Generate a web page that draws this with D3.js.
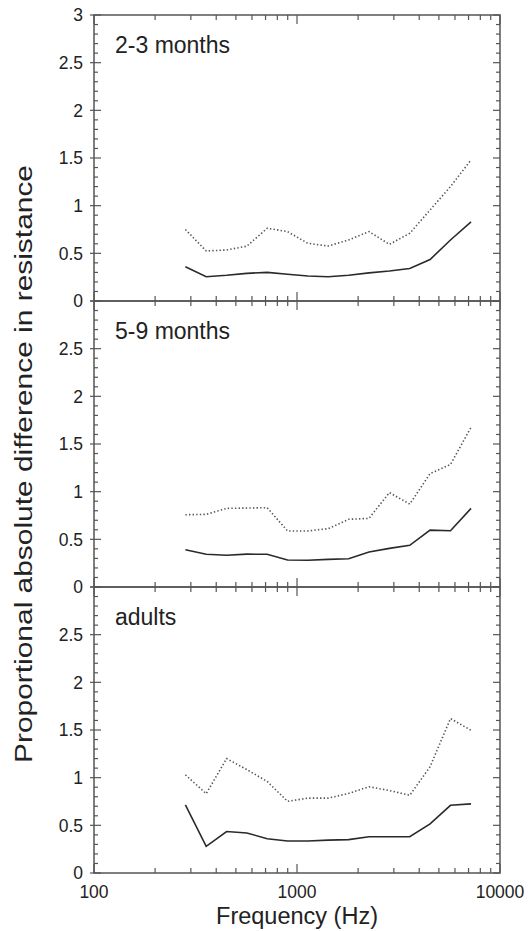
<!DOCTYPE html>
<html>
<head>
<meta charset="utf-8">
<script src="https://cdn.jsdelivr.net/npm/d3@7"></script>
<style>
  html, body { margin: 0; padding: 0; background: #fff; }
  svg { display: block; }
  text { font-family: "Liberation Sans", Arial, Helvetica, sans-serif; fill: #222; }
</style>
</head>
<body>
<svg id="chart" width="528" height="931"></svg>
<script>
// Test frequencies (Hz), shared by all panels
const frequencies = [282, 357, 450, 566, 713, 898, 1131, 1425, 1796, 2263, 2851, 3592, 4525, 5702, 7200];

// Panel titles, top to bottom
const groups = ["2-3 months", "5-9 months", "adults"];

// Solid line: proportional absolute difference
const solid_2_3m  = [0.36, 0.255, 0.27, 0.29, 0.30, 0.28, 0.262, 0.255, 0.27, 0.295, 0.315, 0.34, 0.435, 0.64, 0.83];
const solid_5_9m  = [0.39, 0.343, 0.333, 0.345, 0.343, 0.283, 0.28, 0.29, 0.297, 0.367, 0.405, 0.437, 0.597, 0.59, 0.825];
const solid_adult = [0.715, 0.28, 0.435, 0.42, 0.36, 0.335, 0.335, 0.345, 0.35, 0.38, 0.38, 0.38, 0.515, 0.71, 0.725];

// Dotted line: proportional absolute difference
const dotted_2_3m  = [0.75, 0.525, 0.535, 0.575, 0.763, 0.728, 0.605, 0.577, 0.64, 0.728, 0.594, 0.71, 0.955, 1.2, 1.48];
const dotted_5_9m  = [0.758, 0.762, 0.825, 0.828, 0.832, 0.588, 0.588, 0.612, 0.71, 0.72, 0.99, 0.87, 1.19, 1.285, 1.675];
const dotted_adult = [1.03, 0.832, 1.2, 1.085, 0.96, 0.752, 0.785, 0.785, 0.835, 0.905, 0.865, 0.815, 1.115, 1.62, 1.497];

const solidSeries  = [solid_2_3m, solid_5_9m, solid_adult];
const dottedSeries = [dotted_2_3m, dotted_5_9m, dotted_adult];

const xTickLabels = ["100", "1000", "10000"];
const yTickLabels = ["0", "0.5", "1", "1.5", "2", "2.5", "3"];

// Layout
const plotLeft = 94, plotRight = 500, plotTop = 15, panelH = 286;
const axisColor = "#555";

const svg = d3.select("#chart");

const x = d3.scaleLog().domain([100, 10000]).range([plotLeft, plotRight]);

const xMajor = xTickLabels.map(Number);
const xMinor = [];
for (let d = 100; d < 10000; d *= 10) for (let k = 2; k <= 9; k++) xMinor.push(d * k);

groups.forEach((name, i) => {
  const y0 = plotTop + i * panelH;
  const y = d3.scaleLinear().domain([0, 3]).range([y0 + panelH, y0]);
  const g = svg.append("g");

  // Frame
  g.append("rect")
    .attr("x", plotLeft).attr("y", y0)
    .attr("width", plotRight - plotLeft).attr("height", panelH)
    .attr("fill", "none").attr("stroke", axisColor).attr("stroke-width", 1.5);

  // Y ticks: minor every 0.1, major every 0.5, pointing inward on both sides
  const yTicks = d3.range(0, 31).map(k => k / 10);
  yTicks.forEach(v => {
    const major = Math.round(v * 10) % 5 === 0;
    const len = major ? 7 : 4;
    g.append("line").attr("x1", plotLeft).attr("x2", plotLeft + len)
      .attr("y1", y(v)).attr("y2", y(v))
      .attr("stroke", axisColor).attr("stroke-width", 1.2);
    g.append("line").attr("x1", plotRight).attr("x2", plotRight - len)
      .attr("y1", y(v)).attr("y2", y(v))
      .attr("stroke", axisColor).attr("stroke-width", 1.2);
    if (major) {
      g.append("line").attr("x1", plotLeft - 4).attr("x2", plotLeft)
        .attr("y1", y(v)).attr("y2", y(v))
        .attr("stroke", axisColor).attr("stroke-width", 1.2);
    }
  });

  // Y tick labels
  const labels = i === 0 ? yTickLabels : yTickLabels.slice(0, 6);
  g.selectAll("text.ytl").data(labels).join("text")
    .attr("class", "ytl")
    .attr("x", plotLeft - 11)
    .attr("y", d => y(+d))
    .attr("dy", "0.36em")
    .attr("text-anchor", "end")
    .attr("font-size", 17.5)
    .text(d => d);

  // X ticks on the bottom and top edges, pointing inward
  [[y0 + panelH, -1], [y0, 1]].forEach(([yy, dir]) => {
    xMinor.forEach(v => {
      g.append("line").attr("x1", x(v)).attr("x2", x(v))
        .attr("y1", yy).attr("y2", yy + dir * 5)
        .attr("stroke", axisColor).attr("stroke-width", 1.2);
    });
    xMajor.forEach(v => {
      g.append("line").attr("x1", x(v)).attr("x2", x(v))
        .attr("y1", yy).attr("y2", yy + dir * 9)
        .attr("stroke", axisColor).attr("stroke-width", 1.2);
    });
  });

  // Panel title
  g.append("text")
    .attr("x", plotLeft + 21).attr("y", y0 + 38)
    .attr("font-size", 23)
    .text(name);

  const line = d3.line()
    .x((d, k) => x(frequencies[k]))
    .y(d => y(d));

  g.append("path").datum(dottedSeries[i])
    .attr("d", line)
    .attr("fill", "none").attr("stroke", "#555")
    .attr("stroke-width", 1.6)
    .attr("stroke-dasharray", "1.4,2.2");

  g.append("path").datum(solidSeries[i])
    .attr("d", line)
    .attr("fill", "none").attr("stroke", "#2a2a2a")
    .attr("stroke-width", 1.6);
});

// X tick labels under the bottom panel
const bottomY = plotTop + 3 * panelH;
svg.selectAll("text.xtl").data(xTickLabels).join("text")
  .attr("class", "xtl")
  .attr("x", d => x(+d))
  .attr("y", bottomY + 25)
  .attr("text-anchor", "middle")
  .attr("font-size", 17.5)
  .text(d => d);

// Axis titles
svg.append("text")
  .attr("x", (plotLeft + plotRight) / 2).attr("y", bottomY + 51)
  .attr("text-anchor", "middle")
  .attr("font-size", 23.5)
  .text("Frequency (Hz)");

svg.append("text")
  .attr("transform", `translate(32, 464) rotate(-90)`)
  .attr("text-anchor", "middle")
  .attr("font-size", 23.5)
  .attr("textLength", 598)
  .attr("lengthAdjust", "spacingAndGlyphs")
  .text("Proportional absolute difference in resistance");
</script>
</body>
</html>
